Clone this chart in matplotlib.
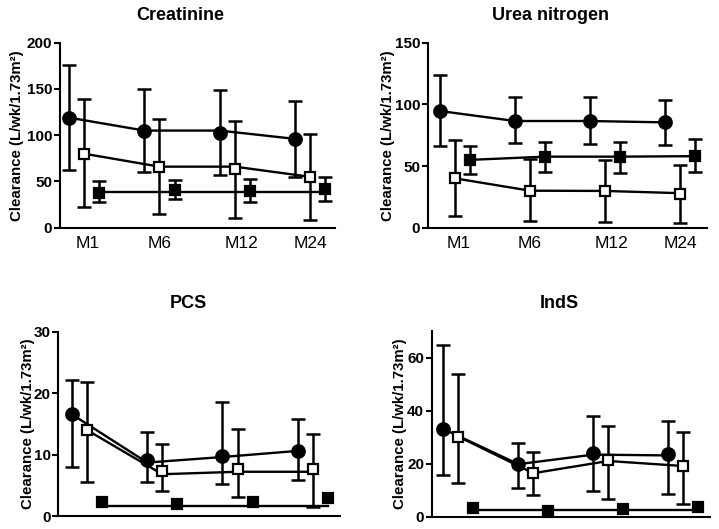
import matplotlib
matplotlib.use('Agg')
import matplotlib.pyplot as plt
import numpy as np

plt.rcParams['font.family'] = ['Liberation Sans', 'DejaVu Sans']

months = ['M1', 'M6', 'M12', 'M24']

# series order in every panel: filled circle, open square, filled square
cre_mean = [[119, 105, 102, 96], [80, 66, 63, 55], [38, 41, 40, 41.5]]
cre_lo = [[62, 60, 57, 55], [22, 15, 11, 8], [28, 31, 28, 29]]
cre_hi = [[176, 150, 149, 137], [139, 118, 115, 101], [50, 52, 53, 54.5]]
cre_line = [[119, 105, 105, 96], [80, 66, 66, 55], [39, 39, 39, 39]]

urea_mean = [[94.6, 86.8, 86.8, 85.4], [40, 30, 29.8, 27], [55, 57.6, 57.3, 58.4]]
urea_lo = [[66.5, 68.4, 67.6, 67], [9.5, 5.7, 4.9, 4], [43.5, 45.4, 44.6, 45.4]]
urea_hi = [[123.5, 106, 105.7, 103.5], [71, 55.7, 54.9, 50.6], [66.5, 69.2, 69.5, 71.9]]
urea_line = [[94.6, 86.5, 86.5, 85.4], [40, 30, 29.8, 28], [55, 57.6, 57.6, 58]]

pcs_mean = [[16.55, 9.1, 9.8, 10.6], [14.0, 7.4, 7.65, 7.65], [2.25, 1.9, 2.2, 2.9]]
pcs_lo = [[8.0, 5.6, 5.2, 5.9], [5.5, 4.1, 3.1, 1.5], [2.25, 1.9, 2.2, 2.9]]
pcs_hi = [[22.2, 13.6, 18.5, 15.8], [21.8, 11.7, 14.2, 13.3], [2.25, 1.9, 2.2, 2.9]]
pcs_line = [[16.55, 8.7, 9.6, 10.6], [14.0, 6.8, 7.2, 7.2], [1.7, 1.7, 1.7, 1.7]]

inds_mean = [[33.1, 19.8, 23.9, 23.5], [30.2, 16.4, 21.4, 19.1], [3.2, 2.2, 2.8, 3.8]]
inds_lo = [[15.7, 10.9, 9.8, 8.6], [12.8, 8.2, 6.6, 4.7], [3.2, 2.2, 2.8, 3.8]]
inds_hi = [[64.8, 27.7, 38.1, 36.1], [53.8, 24.4, 34.3, 32.1], [3.2, 2.2, 2.8, 3.8]]
inds_line = [[33.1, 19.8, 23.4, 23.1], [30.2, 16.4, 21.0, 19.1], [2.6, 2.6, 2.6, 2.6]]

offsets = [-0.2, 0.0, 0.2]
markers = ['o', 's', 's']
msizes = [9, 7.2, 7.2]
faces = ['black', 'white', 'black']

fig = plt.figure(figsize=(7.19, 5.29), dpi=100)
W, H = 719, 529


def make_axes(left, top, right, bottom):
    return fig.add_axes([left / W, 1 - bottom / H, (right - left) / W, (bottom - top) / H])


def panel(ax, mean, lo, hi, line, ylim, yticks, xlim, show_x, title, tpos, ylab_x):
    x = np.arange(1, 5)
    for k in range(3):
        xs = x + offsets[k]
        m = np.array(mean[k], dtype=float)
        err = [m - np.array(lo[k]), np.array(hi[k]) - m]
        ax.plot(xs, line[k], color='black', lw=1.7, zorder=2)
        if np.any(err[1] > 0):
            ax.errorbar(xs, m, yerr=err, fmt='none', ecolor='black',
                        elinewidth=1.8, capsize=4.8, capthick=1.8, zorder=3)
        ax.plot(xs, m, linestyle='none', marker=markers[k], ms=msizes[k],
                mfc=faces[k], mec='black', mew=1.6, zorder=4)
    ax.set_xlim(*xlim)
    ax.set_ylim(*ylim)
    ax.set_yticks(yticks)
    ax.spines['top'].set_visible(False)
    ax.spines['right'].set_visible(False)
    ax.spines['left'].set_linewidth(1.5)
    ax.spines['bottom'].set_linewidth(1.5)
    ax.tick_params(axis='y', length=4.5, width=1.5, pad=1, labelsize=11)
    for lab in ax.get_yticklabels():
        lab.set_fontweight('bold')
    if show_x:
        ax.set_xticks([1.05, 2.0, 3.09, 4.0])
        ax.set_xticklabels(months)
        ax.tick_params(axis='x', length=0, pad=6, labelsize=12.5)
    else:
        ax.set_xticks([])
    ax.set_ylabel('Clearance (L/wk/1.73m²)', fontsize=10.8, fontweight='bold')
    ax.yaxis.set_label_coords(ylab_x, 0.5)
    fig.text(tpos[0] / W, 1 - tpos[1] / H, title, ha='center', va='center',
             fontsize=13, fontweight='bold')


ax1 = make_axes(60, 42.7, 335, 227.7)
panel(ax1, cre_mean, cre_lo, cre_hi, cre_line, (0, 200), [0, 50, 100, 150, 200],
      (0.68, 4.33), True, 'Creatinine', (180, 15), -0.131)

ax2 = make_axes(428, 42.7, 707, 227.7)
panel(ax2, urea_mean, urea_lo, urea_hi, urea_line, (0, 150), [0, 50, 100, 150],
      (0.64, 4.36), True, 'Urea nitrogen', (551, 15), -0.118)

ax3 = make_axes(58.3, 331.7, 340, 516)
panel(ax3, pcs_mean, pcs_lo, pcs_hi, pcs_line, (0, 30), [0, 10, 20, 30],
      (0.62, 4.36), False, 'PCS', (188, 303), -0.083)

ax4 = make_axes(431.7, 331, 710, 516.7)
panel(ax4, inds_mean, inds_lo, inds_hi, inds_line, (0, 70), [0, 20, 40, 60],
      (0.645, 4.355), False, 'IndS', (559, 303), -0.089)

fig.savefig('out.png', dpi=100, facecolor='white')
